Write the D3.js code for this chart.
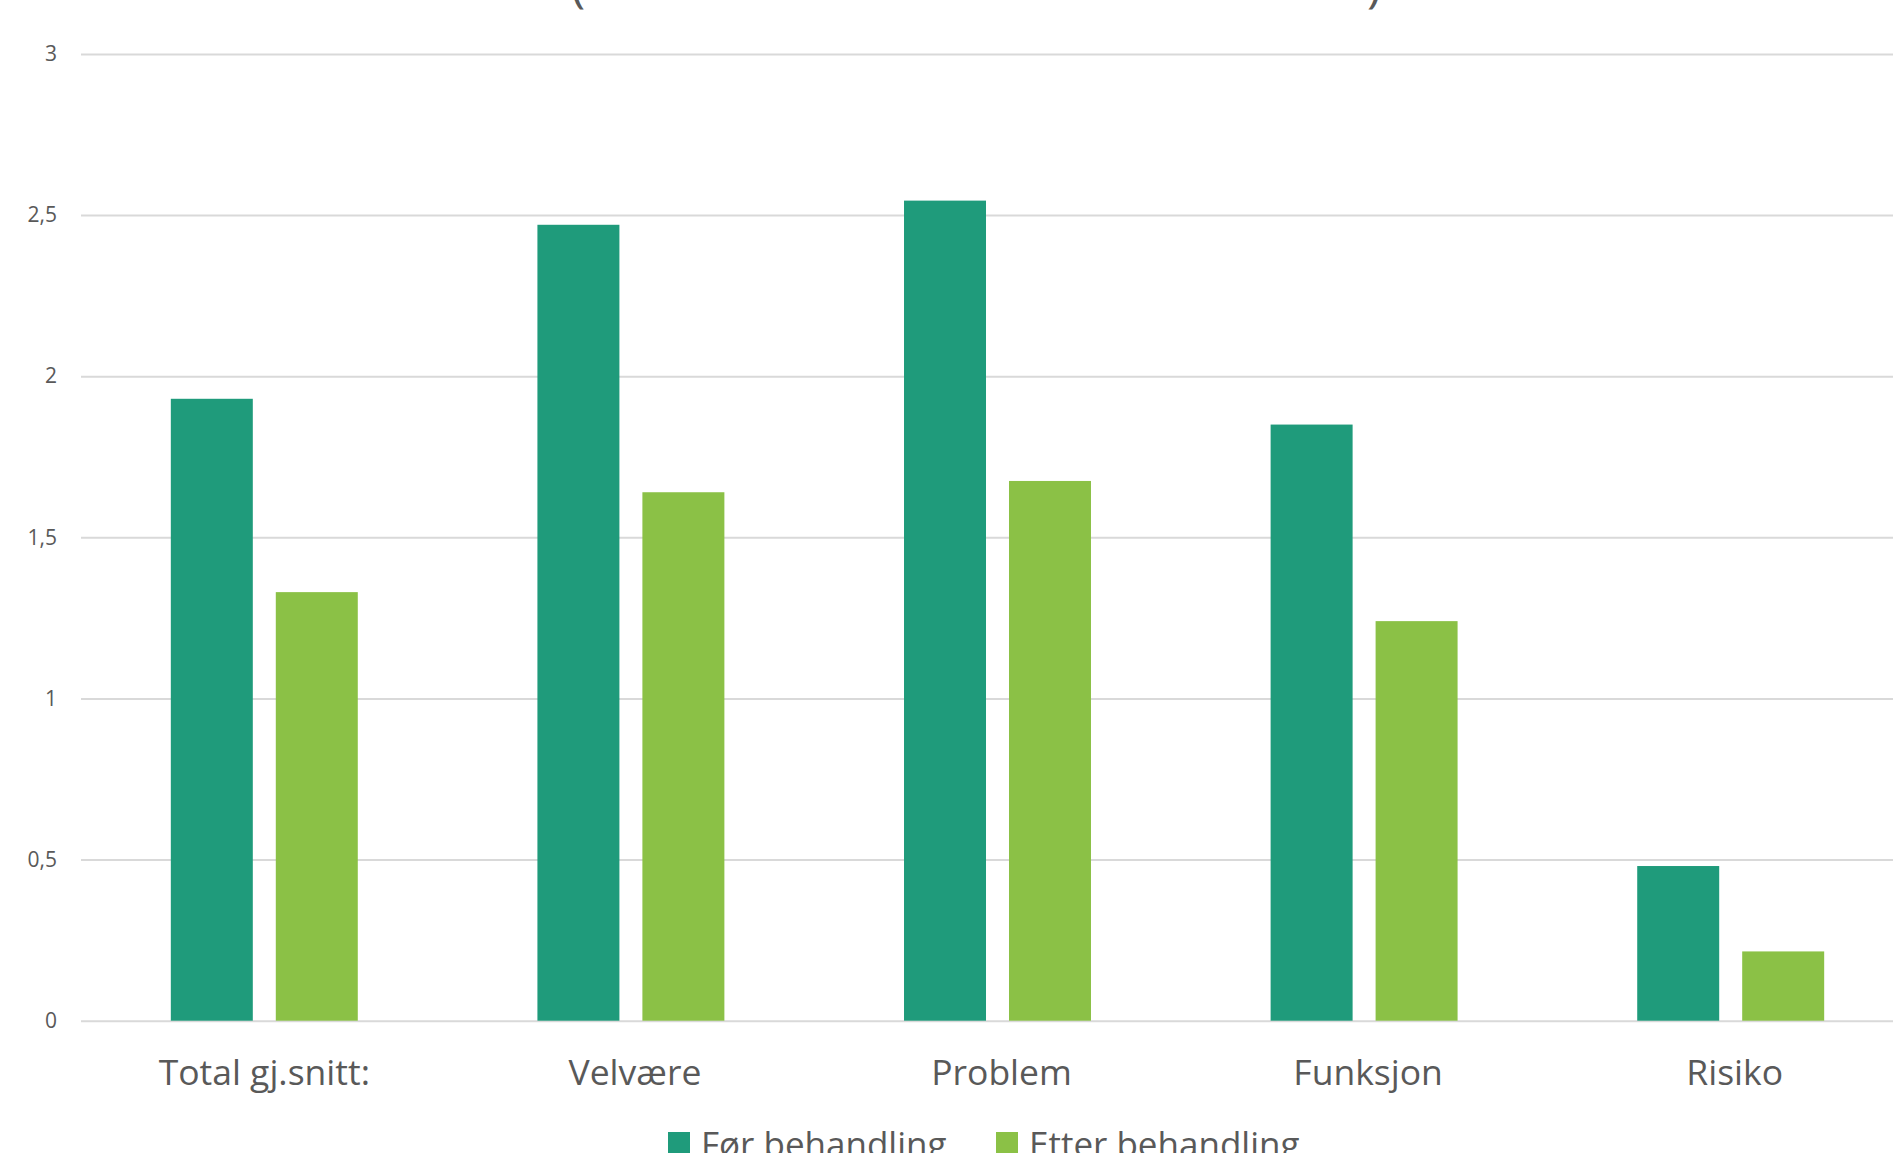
<!DOCTYPE html>
<html>
<head>
<meta charset="utf-8">
<script src="https://cdn.jsdelivr.net/npm/d3@7"></script>
<style>
  html, body { margin: 0; padding: 0; background: #ffffff; overflow: hidden; }
  svg { display: block; font-family: "Open Sans", "Noto Sans", sans-serif; }
</style>
</head>
<body>
<svg id="chart" width="1893" height="1153"></svg>
<script>
// ---- data ----
const categories = ["Total gj.snitt:", "Velvære", "Problem", "Funksjon", "Risiko"];
const seriesNames = ["Før behandling", "Etter behandling"];
const forValues = [1.93, 2.47, 2.545, 1.85, 0.48];
const etterValues = [1.33, 1.64, 1.675, 1.24, 0.215];
const yTicks = [0, 0.5, 1, 1.5, 2, 2.5, 3];
const seriesColors = ["#1f9b7b", "#8bc146"];

const svg = d3.select("#chart");
const textColor = "#595959";

// scales
const x0 = d3.scaleBand().domain(categories).range([81, 1914]).paddingInner(0.49).paddingOuter(0.245);
const x1 = d3.scaleBand().domain(seriesNames).range([0, x0.bandwidth()]).paddingInner(0.219).paddingOuter(0);
const y = d3.scaleLinear().domain([0, 3]).range([1020.7, 54]);

// title (only the bottoms of its parentheses are visible in the reference)
svg.append("text").attr("x", 571).attr("y", 2).attr("font-size", 48).attr("fill", textColor).text("(");
svg.append("text").attr("x", 1367).attr("y", 2).attr("font-size", 48).attr("fill", textColor).text(")");

// gridlines + y tick labels
const yAxis = d3.axisLeft(y).tickValues(yTicks).tickSize(-(1893 - 81)).tickPadding(24)
  .tickFormat(d => d3.format("")(d).replace(".", ","));
const gy = svg.append("g").attr("transform", "translate(81,0)").call(yAxis);
gy.select(".domain").remove();
gy.selectAll(".tick line").attr("stroke", "#d9d9d9").attr("stroke-width", 2);
gy.selectAll(".tick text").attr("fill", textColor).attr("font-size", 21)
  .attr("font-family", "'Open Sans', sans-serif");

// bars
const data = categories.map((c, i) => ({ cat: c, vals: [forValues[i], etterValues[i]] }));
const groups = svg.append("g").selectAll("g").data(data).join("g")
  .attr("transform", d => `translate(${x0(d.cat)},0)`);
groups.selectAll("rect").data(d => d.vals.map((v, j) => ({ s: seriesNames[j], v, j })))
  .join("rect")
  .attr("x", d => x1(d.s))
  .attr("width", x1.bandwidth())
  .attr("y", d => y(d.v))
  .attr("height", d => y(0) - y(d.v))
  .attr("fill", d => seriesColors[d.j]);

// category labels
const xAxis = d3.axisBottom(x0).tickSize(0).tickPadding(0);
const gx = svg.append("g").attr("transform", "translate(0,1020.7)").call(xAxis);
gx.select(".domain").remove();
gx.selectAll(".tick text").attr("fill", textColor).attr("font-size", 35.5)
  .attr("font-family", "'Open Sans', sans-serif").attr("dy", null).attr("y", 64)
  .attr("dx", (d, i) => i === 0 ? 0 : 4);

// legend
const legendX = [668, 996];
const lg = svg.append("g").selectAll("g").data(seriesNames).join("g")
  .attr("transform", (d, i) => `translate(${legendX[i]},0)`);
lg.append("rect").attr("x", 0).attr("y", 1132).attr("width", 22).attr("height", 22)
  .attr("fill", (d, i) => seriesColors[i]);
lg.append("text").attr("x", 33).attr("y", 1157).attr("font-size", 35).attr("fill", textColor).text(d => d);
</script>
</body>
</html>
